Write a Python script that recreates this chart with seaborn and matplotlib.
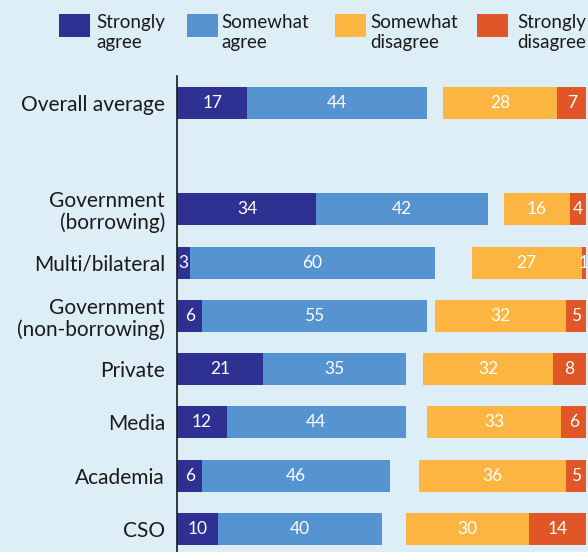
import matplotlib
matplotlib.use("Agg")
import matplotlib.pyplot as plt
from matplotlib.patches import Rectangle
import pandas as pd
import seaborn as sns

# Survey respondents by stakeholder group (percent)
groups = ["Overall average", "Government\n(borrowing)", "Multi/bilateral",
          "Government\n(non-borrowing)", "Private", "Media", "Academia", "CSO"]
strongly_agree = [17, 34, 3, 6, 21, 12, 6, 10]
somewhat_agree = [44, 42, 60, 55, 35, 44, 46, 40]
somewhat_disagree = [28, 16, 27, 32, 32, 33, 36, 30]
strongly_disagree = [7, 4, 1, 5, 8, 6, 5, 14]

series_names = ["Strongly\nagree", "Somewhat\nagree", "Somewhat\ndisagree", "Strongly\ndisagree"]
colors = ["#2e3192", "#5593d1", "#fbb540", "#e05626"]
bg = "#deeef6"
ink = "#1a1a1a"

# blank slot separating the overall average from the groups
order = [groups[0], " "] + groups[1:]

sns.set_theme(style="white")
plt.rcParams["font.family"] = ["Lato", "DejaVu Sans"]

# segment starts: agree side grows from 0, disagree side is anchored at 100
starts = [
    [0] * len(groups),
    strongly_agree,
    [100 - d1 - d2 for d1, d2 in zip(somewhat_disagree, strongly_disagree)],
    [100 - d2 for d2 in strongly_disagree],
]
values = [strongly_agree, somewhat_agree, somewhat_disagree, strongly_disagree]

fig = plt.figure(figsize=(5.88, 5.52), dpi=100, facecolor=bg)
ax = fig.add_axes([177.5 / 588, 0, (586 - 177.5) / 588, 1 - 76 / 552])
ax.set_facecolor(bg)

for name, vals, left, col in zip(series_names, values, starts, colors):
    seg = pd.DataFrame({"group": groups, "value": vals})
    sns.barplot(data=seg, x="value", y="group", order=order, orient="h",
                left=left, color=col, width=0.6, errorbar=None,
                saturation=1, linewidth=0, ax=ax)
    ax.bar_label(ax.containers[-1], labels=[str(v) for v in vals],
                 label_type="center", color="white", fontsize=12.5)

ax.set_xlim(0, 100)
ax.set_ylim(8.43, -0.5)
ax.set_xlabel("")
ax.set_ylabel("")
ax.set_xticks([])
for s in ["top", "right", "bottom"]:
    ax.spines[s].set_visible(False)
ax.spines["left"].set_color(ink)
ax.spines["left"].set_linewidth(1.2)
ax.tick_params(axis="y", length=0, pad=9, labelsize=15, labelcolor=ink)
for lab in ax.get_yticklabels():
    lab.set_horizontalalignment("right")
    lab.set_multialignment("right")
    lab.set_linespacing(1.1)

# legend row across the top
box_x = [59, 187, 335, 477]
text_x = [96, 221, 370.5, 517]
W, H = 588, 552
for name, col, bx, tx in zip(series_names, colors, box_x, text_x):
    fig.add_artist(Rectangle((bx / W, 1 - 37 / H), 31 / W, 23 / H,
                             transform=fig.transFigure, facecolor=col,
                             edgecolor="none"))
    fig.text(tx / W, 1 - 48 / H, name, ha="left", va="baseline",
             fontsize=13.5, color=ink, linespacing=1.2)

fig.savefig("out.png", dpi=100, facecolor=bg)
